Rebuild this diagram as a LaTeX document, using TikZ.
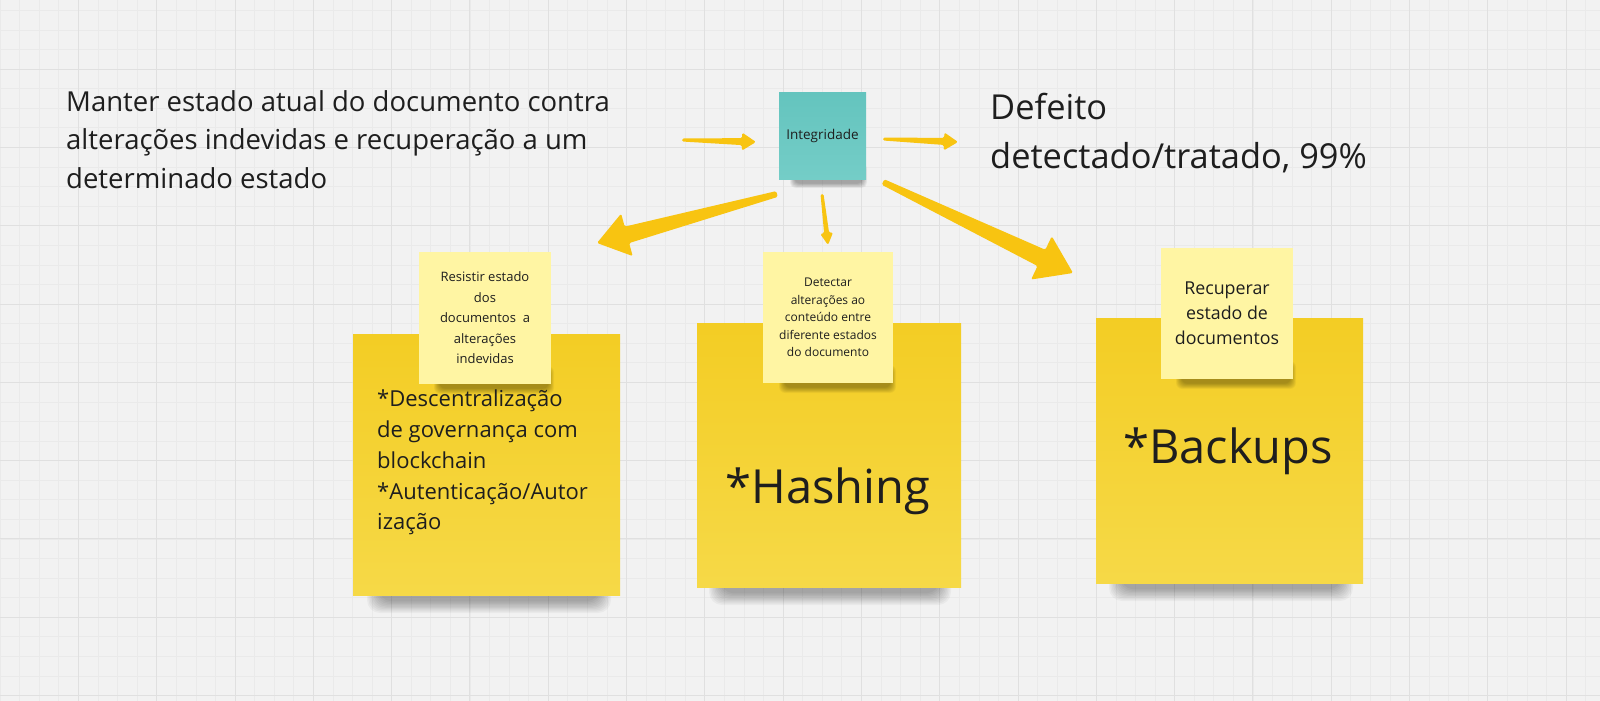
\documentclass[tikz,border=0pt]{standalone}
\usepackage{fontspec}
\setmainfont{Open Sans}
\usetikzlibrary{calc}
\definecolor{bgc}{HTML}{F2F2F2}
\definecolor{majorc}{HTML}{E0E0E0}
\definecolor{minorc}{HTML}{EAEAEA}
\definecolor{txt}{HTML}{1E1E1E}
\definecolor{stkA}{HTML}{F3CD24}
\definecolor{stkB}{HTML}{F6D947}
\definecolor{smallc}{HTML}{FFF5A3}
\definecolor{tealA}{HTML}{64C4BE}
\definecolor{tealB}{HTML}{74CDC7}
\definecolor{arrowc}{HTML}{F8C411}
\tikzset{
  bigsticky/.style={rectangle, inner sep=0pt, top color=stkA, bottom color=stkB},
  smallsticky/.style={rectangle, inner sep=0pt, fill=smallc, text=txt, align=center},
  tealsticky/.style={rectangle, inner sep=0pt, top color=tealA, bottom color=tealB, text=txt},
  plaintext/.style={inner sep=0pt, text=txt, align=left},
  majorgrid/.style={draw=majorc, line width=0.8pt},
  minorgrid/.style={draw=minorc, line width=0.5pt},
}
% soft layered shadow: x1,y1,x2,y2,blur
\newcommand\sshadow[5]{%
  \foreach \k in {1,...,10}{%
    \fill[black, opacity=0.037, rounded corners=#5pt]
      ({#1-#5*\k/10},{#2-#5*\k/10}) rectangle ({#3+#5*\k/10},{#4+#5*\k/10});}%
}
% tapered arrow: start, tip, tail half width, shaft half width, head half width, head length
\newcommand\tarrow[6]{%
  \coordinate (hb) at ($(#2)!#6!(#1)$);
  \fill[arrowc, rounded corners=1.5pt]
    ($(#1)!#3!90:(#2)$) -- ($(hb)!#4!90:(#2)$) -- ($(hb)!#5!90:(#2)$) -- (#2)
    -- ($(hb)!#5!-90:(#2)$) -- ($(hb)!#4!-90:(#2)$) -- ($(#1)!#3!-90:(#2)$) -- cycle;
}
\begin{document}
\begin{tikzpicture}[x=1pt,y=-1pt]
\useasboundingbox (0,0) rectangle (1600,701);
\fill[bgc] (0,0) rectangle (1600,701);
% grid
\foreach \i in {0,...,82}{\draw[minorgrid] ({\i*19.575},0) -- ({\i*19.575},701);}
\foreach \j in {0,...,36}{\draw[minorgrid] (0,{10.275+\j*19.575}) -- (1600,{10.275+\j*19.575});}
\foreach \i in {1,...,20}{\draw[majorgrid] ({\i*78.3},0) -- ({\i*78.3},701);}
\foreach \j in {0,...,8}{\draw[majorgrid] (0,{69+\j*78.3}) -- (1600,{69+\j*78.3});}

% shadows of big stickies
\sshadow{380}{560}{598}{600}{13}
\sshadow{722}{552}{938}{592}{13}
\sshadow{1122}{548}{1340}{588}{13}

% big stickies
\node[bigsticky, minimum width=267pt, minimum height=261pt] (big1) at (486.5,464.5) {};
\node[bigsticky, minimum width=264pt, minimum height=264pt] (big2) at (829,455) {};
\node[bigsticky, minimum width=267pt, minimum height=265pt] (big3) at (1229.5,450.5) {};

% shadows of small stickies
\sshadow{440}{372}{548}{388}{6}
\sshadow{785}{371}{890}{387}{6}
\sshadow{1182}{367}{1290}{383}{6}
\sshadow{795}{168}{862}{183}{5}

% small stickies
\node[smallsticky, minimum width=132pt, minimum height=132pt,
      font=\fontsize{13}{20.5}\selectfont] (s1) at (485,318)
  {Resistir estado\\dos\\documentos\ \ a\\alterações\\indevidas};
\node[smallsticky, minimum width=130pt, minimum height=131pt,
      font=\fontsize{12}{17.4}\selectfont] (s2) at (828,317.5)
  {Detectar\\alterações ao\\conteúdo entre\\diferente estados\\do documento};
\node[smallsticky, minimum width=132pt, minimum height=131pt,
      font=\fontsize{17.8}{25}\selectfont] (s3) at (1227,313.5)
  {Recuperar\\estado de\\documentos};

% teal
\node[tealsticky, minimum width=87pt, minimum height=87pt,
      font=\fontsize{13.5}{15}\selectfont] (integ) at (822.5,135.5) {Integridade};

% texts
\node[plaintext, anchor=north west, font=\fontsize{27.5}{38.5}\selectfont] (goal) at (66,90)
  {Manter estado atual do documento contra\\alterações indevidas e recuperação a um\\determinado estado};
\node[plaintext, anchor=north west, font=\fontsize{34.4}{49}\selectfont] (result) at (990,93)
  {Defeito\\detectado/tratado, 99\%};
\node[plaintext, anchor=north west, font=\fontsize{22}{30.7}\selectfont] (t1) at (377,390)
  {*Descentralização\\de governança com\\blockchain\\*Autenticação/Autor\\ização};
\node[plaintext, anchor=base, font=\fontsize{47}{55}\selectfont] (t2) at (828,503) {*Hashing};
\node[plaintext, anchor=base, font=\fontsize{47}{55}\selectfont] (t3) at (1228,463) {*Backups};

% arrows
\coordinate (a1s) at (682,140);  \coordinate (a1t) at (756,142);
\coordinate (a2s) at (883,139);  \coordinate (a2t) at (958,142);
\coordinate (a3s) at (822,194);  \coordinate (a3t) at (828,245);
\coordinate (a4s) at (777,194);  \coordinate (a4t) at (597,243);
\coordinate (a5s) at (883,182);  \coordinate (a5t) at (1073,273);
\tarrow{a1s}{a1t}{1.5pt}{3.5pt}{9pt}{14pt}
\tarrow{a2s}{a2t}{1.5pt}{3.5pt}{9pt}{14pt}
\tarrow{a3s}{a3t}{1.5pt}{2.5pt}{6.5pt}{12pt}
\tarrow{a4s}{a4t}{3pt}{8.5pt}{22pt}{31pt}
\tarrow{a5s}{a5t}{3pt}{9pt}{24pt}{35pt}
\end{tikzpicture}
\end{document}
